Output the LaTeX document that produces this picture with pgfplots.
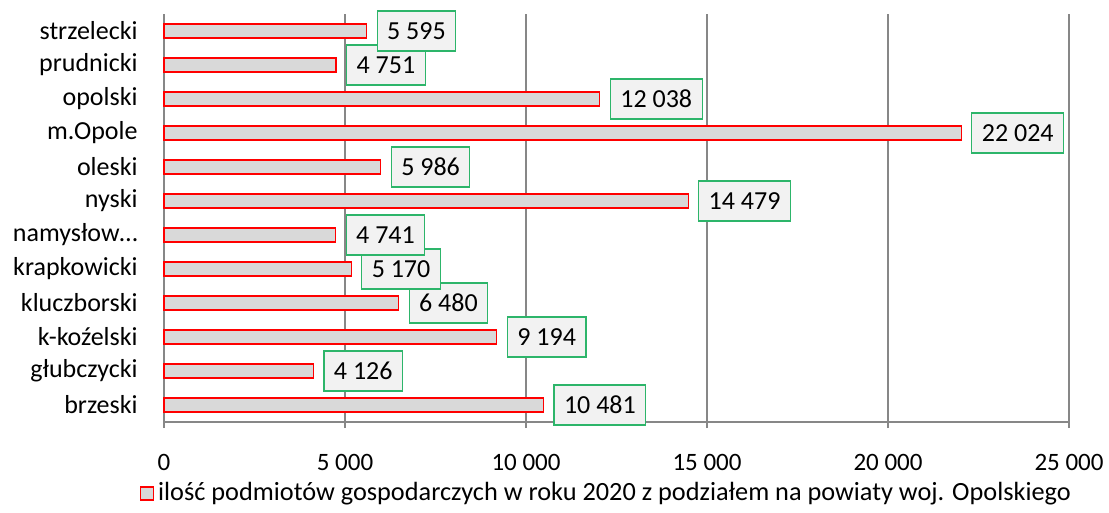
\documentclass[border=0pt]{standalone}
\usepackage{fontspec}
\setmainfont{Carlito}
\usepackage{pgfplots}
\pgfplotsset{compat=1.18}

\definecolor{barfill}{HTML}{D9D9D9}
\definecolor{barline}{HTML}{FF0000}
\definecolor{gridgray}{HTML}{878787}
\definecolor{boxfill}{HTML}{F2F2F2}
\definecolor{boxline}{HTML}{2DB56A}

\begin{document}
\begin{tikzpicture}
\useasboundingbox (0,0) rectangle (554.5bp,256.5bp);
\begin{axis}[
    at={(82bp,45.5bp)}, anchor=south west,
    scale only axis, width=452.5bp, height=204bp,
    xbar, bar width=7bp,
    xmin=0, xmax=25000, ymin=-0.5, ymax=11.5,
    axis lines*=left,
    axis line style={gridgray, line width=0.75bp},
    xmajorgrids, grid style={gridgray, line width=0.75bp},
    tick align=outside,
    major tick length=3bp, minor tick length=3bp,
    tick style={gridgray, line width=0.75bp},
    xtick={0,5000,10000,15000,20000,25000},
    xticklabels={0,5 000,10 000,15 000,20 000,25 000},
    xticklabel style={anchor=base, yshift=-21bp, font=\fontsize{12.5bp}{15bp}\selectfont},
    ytick={0,...,11},
    yticklabels={brzeski,głubczycki,k-koźelski,kluczborski,krapkowicki,namysłow…,nyski,oleski,m.Opole,opolski,prudnicki,strzelecki},
    ytick style={draw=none},
    minor ytick={-0.5,0.5,...,11.5},
    yticklabel style={anchor=east, inner sep=0pt, xshift=-10bp, font=\fontsize{13bp}{15bp}\selectfont},
    tick label style={text=black},
    clip=false,
    point meta=x,
    nodes near coords={\pgfmathprintnumber[1000 sep={\ }, assume math mode=true]{\pgfplotspointmeta}},
    nodes near coords style={anchor=west, xshift=5bp, fill=boxfill, draw=boxline,
        line width=0.6bp, inner xsep=5bp, minimum height=20bp, text=black,
        font=\fontsize{13bp}{15bp}\selectfont},
    legend style={at={(0.49,-0.174)}, anchor=center, draw=none, fill=none,
        font=\fontsize{13.15bp}{15bp}\selectfont, inner sep=0pt},
]
\addplot[fill=barfill, draw=barline, line width=0.6bp,
    legend image code/.code={\draw[fill=barfill, draw=barline, line width=0.6bp] (-1bp,-3.5bp) rectangle (5.5bp,3bp);}]
    coordinates {
    (10481,0) (4126,1) (9194,2) (6480,3) (5170,4) (4741,5)
    (14479,6) (5986,7) (22024,8) (12038,9) (4751,10) (5595,11)
};
\addlegendentry{ilość podmiotów gospodarczych w roku 2020 z podziałem na powiaty woj. Opolskiego}
\end{axis}
\end{tikzpicture}
\end{document}
